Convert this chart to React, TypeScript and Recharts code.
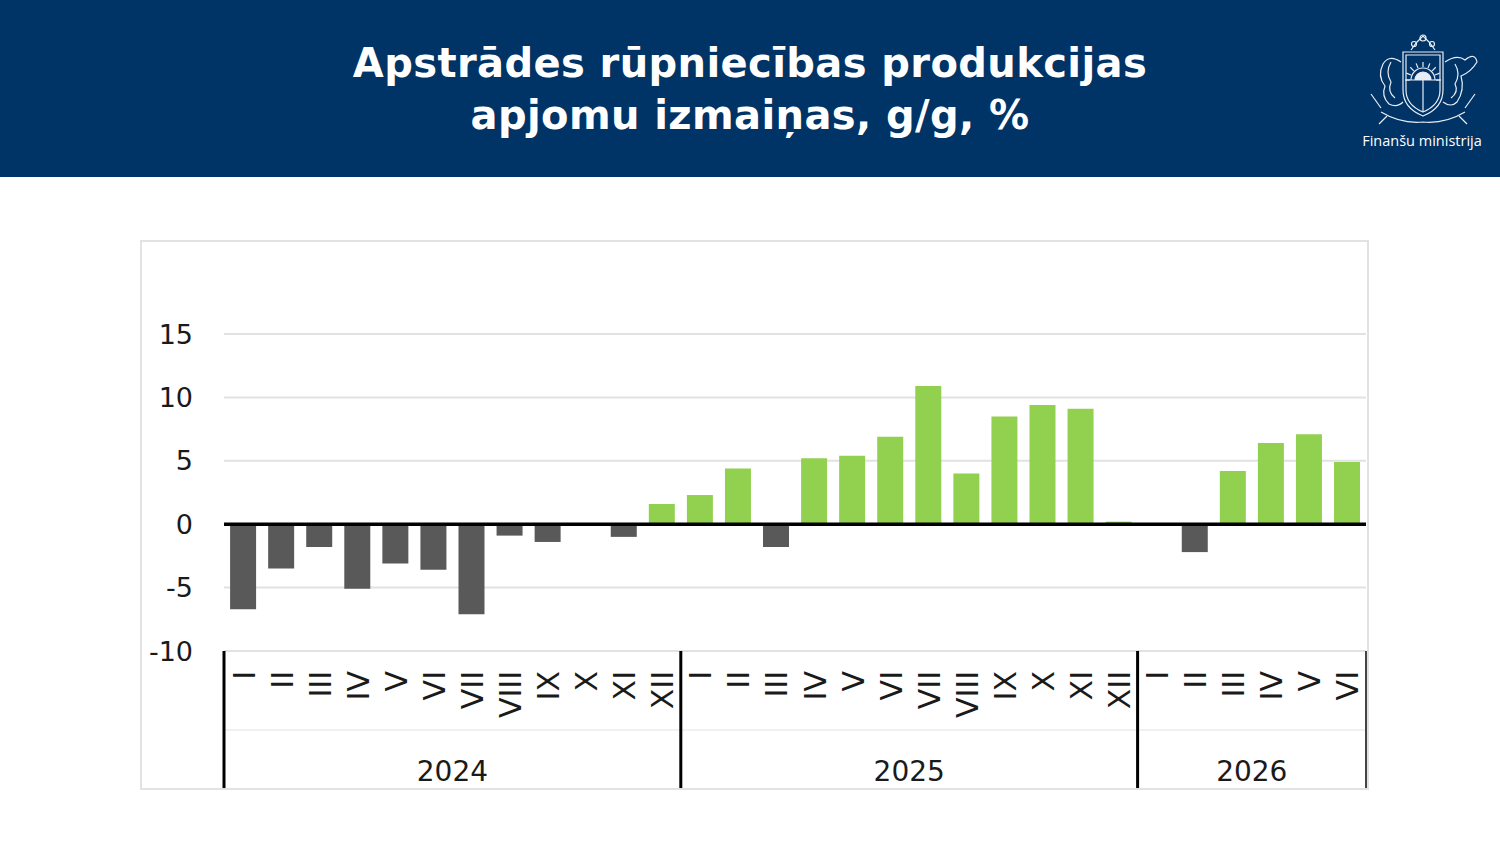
import React from "react";
import {
  BarChart,
  Bar,
  XAxis,
  YAxis,
  CartesianGrid,
  ReferenceLine,
  Cell,
} from "recharts";

// categories
const years = ["2024", "2025", "2026"];
const romanMonths = ["I", "II", "III", "IV", "V", "VI", "VII", "VIII", "IX", "X", "XI", "XII"];

// y/y change, %
const values2024 = [-6.7, -3.5, -1.8, -5.1, -3.1, -3.6, -7.1, -0.9, -1.4, 0, -1.0, 1.6];
const values2025 = [2.3, 4.4, -1.8, 5.2, 5.4, 6.9, 10.9, 4.0, 8.5, 9.4, 9.1, 0.2];
const values2026 = [0, -2.2, 4.2, 6.4, 7.1, 4.9];

const yTicks = [-10, -5, 0, 5, 10, 15];

const seriesByYear = [values2024, values2025, values2026];

const data = seriesByYear.flatMap((vals, yi) =>
  vals.map((v, mi) => ({
    month: romanMonths[mi],
    year: years[yi],
    first: mi === 0,
    count: vals.length,
    value: v,
  }))
);

const CHART_W = 1229;
const CHART_H = 550;
const Y_W = 84;
const MARGIN_R = 3;
const X_H = 139;
const BAND = (CHART_W - Y_W - MARGIN_R) / data.length;

const FONT = "'DejaVu Sans', Verdana, sans-serif";
const NEG = "#595959";
const POS = "#92D050";

function MonthTick(props: any) {
  const { x, y, index } = props;
  const d = data[index];
  if (!d) return null;
  const isLast = index === data.length - 1;
  return (
    <g>
      <text
        transform={`translate(${x + 1},${y + 20}) rotate(-90)`}
        textAnchor="end"
        dominantBaseline="central"
        fontFamily={FONT}
        fontSize={30}
        fill="#1a1a1a"
      >
        {d.month}
      </text>
      <line x1={x - BAND / 2} x2={x + BAND / 2} y1={y + 79} y2={y + 79} stroke="#ececec" strokeWidth={1.5} />
      {d.first && (
        <>
          <line x1={x - BAND / 2} x2={x - BAND / 2} y1={y} y2={y + X_H} stroke="#000" strokeWidth={3} />
          <text
            x={x - BAND / 2 + (d.count * BAND) / 2}
            y={y + 120}
            textAnchor="middle"
            dominantBaseline="central"
            fontFamily={FONT}
            fontSize={28}
            fill="#1a1a1a"
          >
            {d.year}
          </text>
        </>
      )}
      {isLast && (
        <line x1={x + BAND / 2} x2={x + BAND / 2} y1={y} y2={y + X_H} stroke="#444" strokeWidth={2} />
      )}
    </g>
  );
}

function Emblem() {
  const s = "#e8eef6";
  return (
    <svg width={124} height={100} viewBox="0 0 124 92" style={{ position: "absolute", left: 1361, top: 28 }}>
      <g fill="none" stroke={s} strokeWidth={1.2}>
        {/* crown of stars */}
        <path d="M50 18 L56 10 L62 4 L68 10 L74 18" />
        <circle cx={62} cy={6} r={3} />
        <circle cx={53} cy={12} r={2.5} />
        <circle cx={71} cy={12} r={2.5} />
        {/* shield */}
        <path d="M42 20 H82 V58 Q82 76 62 84 Q42 76 42 58 Z" />
        <path d="M45 23 H79 V58 Q79 73 62 80 Q45 73 45 58 Z" />
        <line x1={62} y1={48} x2={62} y2={80} />
        <line x1={45} y1={48} x2={79} y2={48} />
        {/* rising sun */}
        <path d="M50 48 A12 12 0 0 1 74 48" />
        <path d="M54 48 A8 8 0 0 1 70 48" fill={s} />
        {[...Array(9)].map((_, i) => {
          const a = Math.PI - (i * Math.PI) / 8;
          return (
            <line
              key={i}
              x1={62 + 13 * Math.cos(a)}
              y1={48 - 13 * Math.sin(a)}
              x2={62 + 18 * Math.cos(a)}
              y2={48 - 18 * Math.sin(a)}
            />
          );
        })}
        {/* supporters */}
        <path d="M40 30 Q28 22 22 32 Q16 44 24 54 Q20 64 28 72 Q36 76 42 70" />
        <path d="M30 30 Q24 40 30 50 Q26 60 34 66" />
        <path d="M84 30 Q96 22 104 28 Q114 20 116 30 Q110 40 100 44 Q104 58 96 70 Q90 76 82 70" />
        <path d="M94 32 Q100 42 94 52 Q98 60 90 66" />
        {/* ribbon / oak branches */}
        <path d="M20 80 Q40 92 62 90 Q84 92 104 80" />
        <path d="M26 84 L18 92 M98 84 L106 92" />
        <line x1={10} y1={62} x2={20} y2={76} />
        <line x1={114} y1={62} x2={104} y2={76} />
      </g>
    </svg>
  );
}

export default function App() {
  return (
    <div
      style={{
        position: "absolute",
        left: 0,
        top: 0,
        width: 1500,
        height: 860,
        background: "#fff",
        overflow: "hidden",
      }}
    >
      <div
        style={{
          position: "absolute",
          left: 0,
          top: 0,
          width: 1500,
          height: 177,
          background: "#003366",
        }}
      >
        <div
          style={{
            position: "absolute",
            left: 0,
            top: 37,
            width: 1500,
            textAlign: "center",
            color: "#fff",
            fontFamily: FONT,
            fontWeight: 700,
            fontSize: 40,
            letterSpacing: 0.4,
            lineHeight: "52px",
          }}
        >
          Apstrādes rūpniecības produkcijas
          <br />
          apjomu izmaiņas, g/g, %
        </div>
        <Emblem />
        <div
          style={{
            position: "absolute",
            left: 1330,
            top: 131,
            width: 184,
            textAlign: "center",
            color: "#fff",
            fontFamily: "'Open Sans', 'Noto Sans', sans-serif",
            fontSize: 14.5,
          }}
        >
          Finanšu ministrija
        </div>
      </div>

      <div style={{ position: "absolute", left: 140, top: 240, width: CHART_W, height: CHART_H }}>
        <BarChart
          width={CHART_W}
          height={CHART_H}
          data={data}
          margin={{ top: 94, right: MARGIN_R, left: 0, bottom: 0 }}
          barCategoryGap="16%"
        >
          <CartesianGrid vertical={false} stroke="#e2e2e2" strokeWidth={2} />
          <YAxis
            width={Y_W}
            domain={[-10, 15]}
            ticks={yTicks}
            interval={0}
            axisLine={false}
            tickLine={false}
            tickSize={6}
            tickMargin={25}
            tick={{ fontFamily: FONT, fontSize: 27, fill: "#1a1a1a" }}
          />
          <XAxis
            dataKey="month"
            height={X_H}
            interval={0}
            axisLine={false}
            tickLine={false}
            tickSize={0}
            tickMargin={0}
            tick={<MonthTick />}
          />
          <Bar dataKey="value" isAnimationActive={false}>
            {data.map((d, i) => (
              <Cell key={i} fill={d.value < 0 ? NEG : POS} />
            ))}
          </Bar>
          <ReferenceLine y={0} stroke="#000" strokeWidth={3.5} />
        </BarChart>
      </div>
      <div
        style={{
          position: "absolute",
          left: 140,
          top: 240,
          width: CHART_W,
          height: CHART_H,
          border: "2px solid #e2e2e2",
          boxSizing: "border-box",
          pointerEvents: "none",
        }}
      />
    </div>
  );
}
